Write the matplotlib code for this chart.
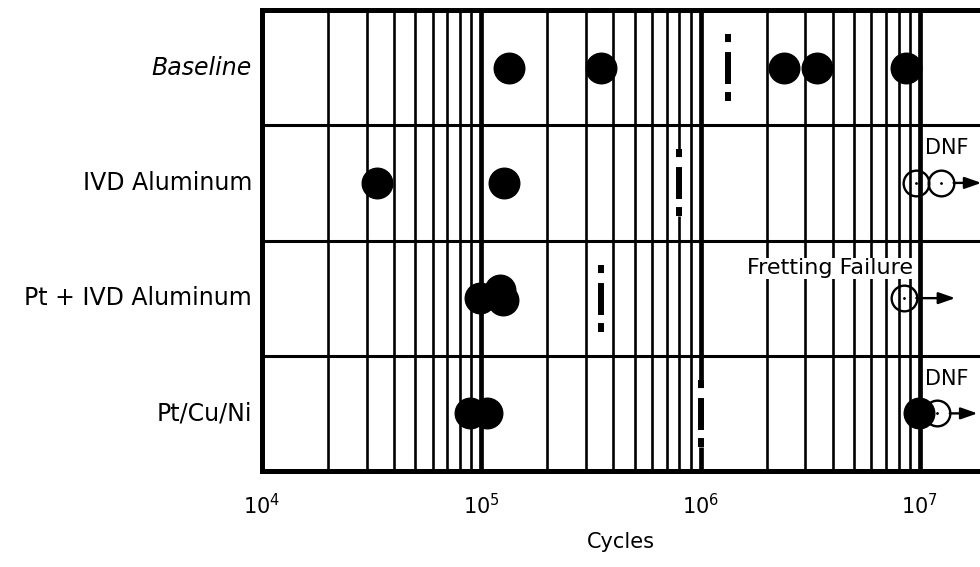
import matplotlib
matplotlib.use("Agg")
import matplotlib.pyplot as plt
import numpy as np

plt.rcParams["font.family"] = ["DejaVu Sans"]
plt.rcParams["lines.scale_dashes"] = False
plt.rcParams["mathtext.default"] = "regular"

# coatings, top to bottom
coatings = ["Baseline", "IVD Aluminum", "Pt + IVD Aluminum", "Pt/Cu/Ni"]

# failures (filled dots), cycles
failed_cycles = [
    [1.34e5, 3.5e5, 2.39e6, 3.39e6, 8.6e6],
    [3.35e4, 1.27e5],
    [9.9e4, 1.22e5, 1.25e5],
    [8.9e4, 1.06e5, 9.9e6],
]
# small vertical offsets of overlapping dots (row units)
failed_offsets = [
    [0, 0, 0, 0, 0],
    [0, 0],
    [0, -0.07, 0.02],
    [0, 0, 0],
]

# run-outs / fretting (open circles), cycles
runout_cycles = [[], [9.6e6, 1.25e7], [8.45e6], [1.2e7]]
runout_notes = [None, "DNF", "Fretting Failure", "DNF"]

# mean life marker per coating
mean_cycles = [1.33e6, 8.0e5, 3.5e5, 1.0e6]

fig = plt.figure(figsize=(9.8, 5.67), dpi=100)
ax = fig.add_axes([0.2673, 0.1693, 0.7327, 0.813])

ax.set_xscale("log")
ax.set_xlim(1e4, 1.88e7)
ax.set_ylim(len(coatings) - 0.5, -0.5)

# grid
ax.set_xticks([1e4, 1e5, 1e6, 1e7])
ax.set_xticklabels(["$10^{4}$", "$10^{5}$", "$10^{6}$", "$10^{7}$"])
minor = [m * 10**d for d in range(4, 7) for m in range(2, 10)]
ax.set_xticks(minor, minor=True)
ax.tick_params(axis="x", which="both", length=0, pad=16, labelsize=15)
ax.tick_params(axis="x", which="minor", labelbottom=False)
ax.set_yticks([])
for d in [1e5, 1e6, 1e7]:
    ax.axvline(d, color="black", lw=3.4, zorder=1)
for m in minor:
    ax.axvline(m, color="black", lw=1.9, zorder=1)
for i in range(len(coatings) - 1):
    ax.axhline(i + 0.5, color="black", lw=2.2, zorder=1)

for side in ["left", "bottom", "top"]:
    ax.spines[side].set_linewidth(3.6)
ax.spines["right"].set_visible(False)

for i, name in enumerate(coatings):
    ax.text(-0.014, 1 - (i + 0.5) / len(coatings), name, transform=ax.transAxes,
            ha="right", va="center", fontsize=17,
            style="italic" if name == "Baseline" else "normal")

    xs = np.array(failed_cycles[i])
    ys = i + np.array(failed_offsets[i])
    ax.plot(xs, ys, "o", color="black", markersize=22, zorder=3)

    # mean marker: white gaps break the grid lines underneath
    ax.plot([mean_cycles[i]] * 2, [i - 0.29, i + 0.29], color="white", lw=5,
            solid_capstyle="butt", zorder=2.5)
    ax.plot([mean_cycles[i]] * 2, [i - 0.29, i + 0.29], color="black", lw=4.3,
            linestyle=(0, (5.8, 7.2, 23, 5.8, 6.5, 60)), dash_capstyle="butt",
            zorder=3)

    if runout_cycles[i]:
        rx = np.array(runout_cycles[i])
        ax.plot(rx, [i] * len(rx), "o", markerfacecolor="none",
                markeredgecolor="black", markeredgewidth=1.7, markersize=18.5,
                zorder=4)
        ax.plot(rx, [i] * len(rx), ".", color="black", markersize=2, zorder=4)
        arrow_len = 37 if runout_notes[i] == "Fretting Failure" else 29
        ax.annotate("", xy=(rx[-1], i), xytext=(arrow_len, 0),
                    textcoords="offset points",
                    arrowprops=dict(arrowstyle="<|-,head_length=1.0,head_width=0.35",
                                    color="black", lw=1.7, shrinkA=0, shrinkB=9),
                    zorder=4)

    note = runout_notes[i]
    if note == "DNF":
        ax.text(1.05e7, i - 0.3, note, ha="left", va="center", fontsize=15,
                zorder=5)
    elif note:
        ax.text(9.3e6, i - 0.26, note, ha="right", va="center", fontsize=16,
                zorder=5, bbox=dict(facecolor="white", edgecolor="none", pad=0.5))

ax.set_xlabel("Cycles", fontsize=15, labelpad=10)

fig.savefig("out.png", dpi=100)
